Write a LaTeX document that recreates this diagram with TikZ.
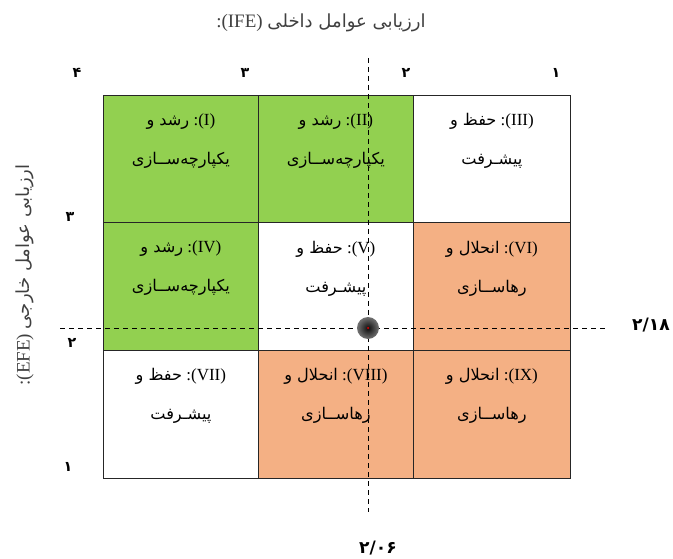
\documentclass[tikz,border=0pt]{standalone}
\usepackage{fontspec}
\setmainfont{Liberation Serif}
\newfontfamily\fa[Script=Arabic,Scale=0.95]{DejaVu Sans}
\TeXXeTstate=1
\definecolor{cgreen}{HTML}{92D050}
\definecolor{corange}{HTML}{F4B084}
\begin{document}
\begin{tikzpicture}[x=1pt,y=-1pt,
  cell/.style={draw=black!85, line width=0.8pt, anchor=north west, inner sep=0pt, minimum width=155pt, minimum height=127.5pt},
  cellw/.style={cell, minimum width=157pt},
  celltxt/.style={align=center, font=\fontsize{17}{39}\selectfont, text=black},
  axnum/.style={font=\fa\bfseries\fontsize{15}{16}\selectfont},
  valnum/.style={font=\fa\bfseries\fontsize{18}{19}\selectfont},
  axtitle/.style={font=\fontsize{19}{20}\selectfont, text=black!75},
  guide/.style={dash pattern=on 5pt off 4pt, line width=0.8pt}
]
\useasboundingbox (0,0) rectangle (673,559);
% cells
\node[cell, fill=cgreen] (c1) at (103,95) {};
\node[cell, fill=cgreen] (c2) at (258,95) {};
\node[cellw, fill=white] (c3) at (413,95) {};
\node[cell, fill=cgreen] (c4) at (103,222.5) {};
\node[cell, fill=white] (c5) at (258,222.5) {};
\node[cellw, fill=corange] (c6) at (413,222.5) {};
\node[cell, fill=white] (c7) at (103,350) {};
\node[cell, fill=corange] (c8) at (258,350) {};
\node[cellw, fill=corange] (c9) at (413,350) {};
% guide lines
\coordinate (vtop) at (368,58);
\coordinate (vbot) at (368,512);
\coordinate (hl) at (60,328);
\coordinate (hr) at (607,328);
\draw[guide] (vtop) -- (vbot);
\draw[guide] (hl) -- (hr);
% cell texts
\node[celltxt] (t1) at ([yshift=-46pt]c1.north) {{\fa\beginR رشد و\endR} :(I)\\{\fa یکپارچه‌ســازی}};
\node[celltxt] (t2) at ([yshift=-46pt]c2.north) {{\fa\beginR رشد و\endR} :(II)\\{\fa یکپارچه‌ســازی}};
\node[celltxt] (t3) at ([yshift=-46pt]c3.north) {{\fa\beginR حفظ و\endR} :(III)\\{\fa پیشـرفت}};
\node[celltxt] (t4) at ([yshift=-46pt]c4.north) {{\fa\beginR رشد و\endR} :(IV)\\{\fa یکپارچه‌ســازی}};
\node[celltxt] (t5) at ([yshift=-46pt]c5.north) {{\fa\beginR حفظ و\endR} :(V)\\{\fa پیشـرفت}};
\node[celltxt] (t6) at ([yshift=-46pt]c6.north) {{\fa\beginR انحلال و\endR} :(VI)\\{\fa رهاســازی}};
\node[celltxt] (t7) at ([yshift=-46pt]c7.north) {{\fa\beginR حفظ و\endR} :(VII)\\{\fa پیشـرفت}};
\node[celltxt] (t8) at ([yshift=-46pt]c8.north) {{\fa\beginR انحلال و\endR} :(VIII)\\{\fa رهاســازی}};
\node[celltxt] (t9) at ([yshift=-46pt]c9.north) {{\fa\beginR انحلال و\endR} :(IX)\\{\fa رهاســازی}};
% marker
\node[circle, minimum size=22pt, inner sep=0pt, shading=radial, inner color=black!95, outer color=black!55] (dot) at (368,328) {};
\node[circle, fill=red!80!black, minimum size=2.5pt, inner sep=0pt] (dotc) at (dot.center) {};
% axis titles
\node[axtitle] (xlab) at (321,23) {:(IFE) {\fa\beginR ارزیابی عوامل داخلی\endR}};
\node[axtitle, rotate=90] (ylab) at (25,275) {:(EFE) {\fa\beginR ارزیابی عوامل خارجی\endR}};
% axis numbers
\node[axnum] (x4) at (77,73) {۴};
\node[axnum] (x3) at (245,73) {۳};
\node[axnum] (x2) at (406,73) {۲};
\node[axnum] (x1) at (556,73) {۱};
\node[axnum] (y3) at (70,217) {۳};
\node[axnum] (y2) at (72,343) {۲};
\node[axnum] (y1) at (68,467) {۱};
\node[valnum] (vy) at (651,325) {۲/۱۸};
\node[valnum] (vx) at (378,548) {۲/۰۶};
\end{tikzpicture}
\end{document}
